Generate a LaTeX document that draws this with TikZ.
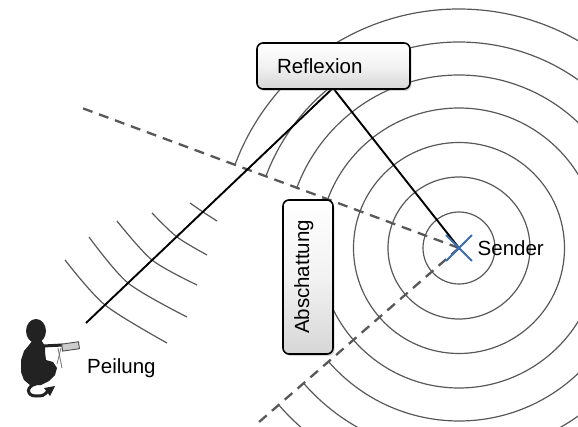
\documentclass[tikz,border=0pt]{standalone}
\usepackage{fontspec}
\setmainfont{Liberation Sans}
\usetikzlibrary{shadows,shapes.misc}
\definecolor{senderblue}{RGB}{58,108,178}
\definecolor{waveline}{RGB}{88,88,88}
\definecolor{silhouette}{RGB}{34,34,34}
\begin{document}
\begin{tikzpicture}[x=1pt,y=1pt,
  wave/.style={draw=waveline, line width=1.2pt},
  shadowedge/.style={draw=waveline, line width=2.3pt, dash pattern=on 10pt off 7pt},
  ray/.style={draw=black, line width=1.9pt},
  bigtext/.style={font=\fontsize{20.5}{24}\selectfont, inner sep=0pt},
  labelbox/.style={bigtext, draw=black, line width=1.6pt, rounded corners=6pt,
    top color=white, bottom color=black!16, middle color=black!5,
    drop shadow={opacity=0.3, shadow xshift=1.5pt, shadow yshift=-2pt}}]
\useasboundingbox (0,0) rectangle (578,426);
\clip (0,0) rectangle (578,426);

% key points
\coordinate (R) at (333,338);   % reflection point
\coordinate (P) at (86,103);    % receiver antenna
\coordinate (U) at (82,318);    % end of upper shadow edge
\coordinate (L) at (254.5,0);   % end of lower shadow edge
\coordinate (S) at (459,178);   % transmitter

% wavefronts around the transmitter
\foreach \r in {36,71,105.5,140}
  \draw[wave] (S) circle[radius=\r pt];
\foreach \r in {173,206,239}
  \draw[wave] ([shift={(-138.96:\r pt)}]S)
    arc[start angle=-138.96, end angle=159.63, radius=\r pt];

% reflected wavefronts travelling towards the receiver
\draw[wave] plot[smooth] coordinates {(65,166) (105,121) (167,83)};
\draw[wave] plot[smooth] coordinates {(89,189) (128,143) (187,109)};
\draw[wave] plot[smooth] coordinates {(117,205) (152,166) (197,141)};
\draw[wave] plot[smooth] coordinates {(152,213) (177,189) (207,171)};
\draw[wave] plot[smooth] coordinates {(190,223) (203,214) (217,205)};

% shadow edges
\draw[shadowedge] (S) -- (U);
\draw[shadowedge] (S) -- (L);

% propagation path via the reflection
\draw[ray] (R) -- (S);
\draw[ray] (R) -- (P);

% transmitter
\node[cross out, draw=senderblue, line width=1.9pt, minimum size=24pt, inner sep=0pt] (sender) at (S) {};
\node[bigtext, anchor=west] (senderlabel) at (477.5,178) {Sender};

% labelled boxes
\node[labelbox, text width=113pt, align=left, inner xsep=20pt,
      minimum height=46pt] (refl) at (333.5,360) {Reflexion};
\node[labelbox, rotate=90, minimum width=154pt, minimum height=50pt,
      text height=15pt, text depth=13pt] (shade) at (308,149) {Abschattung};

% receiver with direction finder
\begin{scope}[fill=silhouette]
  \fill (36,95) ellipse[x radius=10, y radius=12];
  \fill (33,86) -- (29,81) -- (24,75) -- (21,66) -- (21,54) -- (24,46) -- (30,41)
        -- (41,41) -- (49,45) -- (55,51) -- (57,58) -- (53,64) -- (46,66)
        -- (45,74) -- (45,80) -- (41,86) -- cycle;
  \draw[silhouette, line width=3pt] (43,80) -- (63,81);
  \draw[silhouette, line width=3pt, line cap=round]
    (36,42) .. controls (26,40) and (26,30) .. (36,30) .. controls (43,30) .. (48,35);
  \fill (44,38) -- (55,40) -- (50,30) -- cycle;
\end{scope}
\draw[black!55, line width=0.8pt] (58,78) -- (62,58);
\draw[black!55, line width=0.8pt] (61,78) -- (57,62);
\draw[black!70, fill=black!20, line width=0.9pt, rotate around={8:(70,80)}]
  (62,76) rectangle (79,83);
\node[bigtext, anchor=base west] (peil) at (87,53) {Peilung};
\end{tikzpicture}
\end{document}
